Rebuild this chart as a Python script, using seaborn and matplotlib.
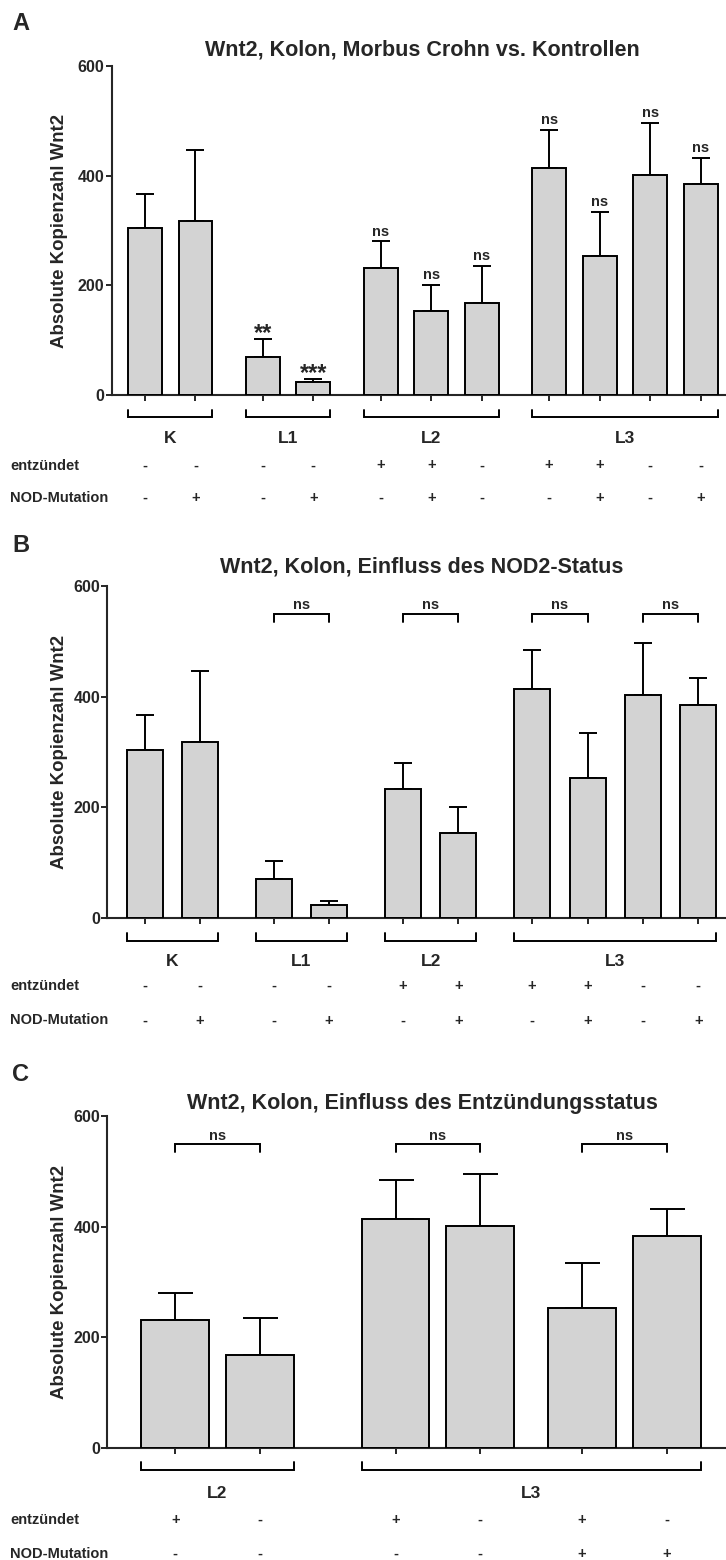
import numpy as np
import pandas as pd
import matplotlib
matplotlib.use("Agg")
import matplotlib.pyplot as plt
import seaborn as sns
from matplotlib.transforms import blended_transform_factory

# ---------------- data ----------------
# Panel A
a_groups = ["K", "L1", "L2", "L3"]
a_group_sizes = [2, 2, 3, 4]
a_means = [304, 318, 70, 23, 232, 154, 168, 414, 253, 402, 384]
a_sem = [62, 128, 33, 7, 48, 47, 68, 70, 81, 94, 49]
a_entz = ["-", "-", "-", "-", "+", "+", "-", "+", "+", "-", "-"]
a_nod = ["-", "+", "-", "+", "-", "+", "-", "-", "+", "-", "+"]
a_sig = ["", "", "**", "***", "ns", "ns", "ns", "ns", "ns", "ns", "ns"]

# Panel B
b_groups = ["K", "L1", "L2", "L3"]
b_group_sizes = [2, 2, 2, 4]
b_means = [304, 318, 70, 23, 232, 154, 414, 253, 402, 384]
b_sem = [62, 128, 33, 7, 48, 47, 70, 81, 94, 49]
b_entz = ["-", "-", "-", "-", "+", "+", "+", "+", "-", "-"]
b_nod = ["-", "+", "-", "+", "-", "+", "-", "+", "-", "+"]
b_pairs = [(2, 3), (4, 5), (6, 7), (8, 9)]
b_pair_labels = ["ns", "ns", "ns", "ns"]

# Panel C
c_groups = ["L2", "L3"]
c_group_sizes = [2, 4]
c_means = [232, 168, 414, 402, 253, 384]
c_sem = [48, 68, 70, 94, 81, 49]
c_entz = ["+", "-", "+", "-", "+", "-"]
c_nod = ["-", "-", "-", "-", "+", "+"]
c_pairs = [(0, 1), (2, 3), (4, 5)]
c_pair_labels = ["ns", "ns", "ns"]

titles = ["Wnt2, Kolon, Morbus Crohn vs. Kontrollen",
          "Wnt2, Kolon, Einfluss des NOD2-Status",
          "Wnt2, Kolon, Einfluss des Entzündungsstatus"]
ylabel = "Absolute Kopienzahl Wnt2"
row_labels = ["entzündet", "NOD-Mutation"]
yticks = [0, 200, 400, 600]

# ---------------- style ----------------
sns.set_style("ticks")
plt.rcParams["font.family"] = ["Liberation Sans", "DejaVu Sans"]
plt.rcParams["font.weight"] = "bold"

W, H = 726, 1560
fig = plt.figure(figsize=(W / 100, H / 100), dpi=100)
LW = 1.4
BAR_COLOR = "#d3d3d3"


def fx(x):
    return x / W


def fy(y):
    return 1 - y / H


def panel(box, letter, letter_y, title, title_y, ylab_y, means, sem, steps,
          width, xlim, capsize, groups, sizes, entz, nod, entz_y, nod_y,
          gline_y, gleg_y, glabel_y, sig=None, pairs=None, pair_labels=None):
    left, top, right, bottom = box
    ax = fig.add_axes([fx(left), fy(bottom), fx(right) - fx(left), (bottom - top) / H])
    pos = np.concatenate([[0.0], np.cumsum(steps)])
    df = pd.DataFrame({"pos": pos, "mean": means})
    sns.barplot(data=df, x="pos", y="mean", native_scale=True, width=width,
                color=BAR_COLOR, saturation=1, edgecolor="black", linewidth=LW,
                errorbar=None, ax=ax, zorder=3)
    ax.errorbar(pos, means, yerr=[np.zeros(len(means)), sem], fmt="none",
                ecolor="black", elinewidth=LW, capsize=capsize, capthick=LW, zorder=2)

    sns.despine(ax=ax)
    for s in ["left", "bottom"]:
        ax.spines[s].set_linewidth(1.5)
    ax.set_yticks(yticks)
    ax.tick_params(axis="y", length=4.3, width=1.4, pad=0.8, labelsize=11.5)
    ax.set_xticks(pos)
    ax.set_xticklabels([])
    ax.tick_params(axis="x", length=4.3, width=1.4, direction="out")
    ax.set_xlabel("")
    ax.set_ylabel("")

    trans = blended_transform_factory(ax.transData, fig.transFigure)

    # group brackets and labels
    start = 0
    for g, n in zip(groups, sizes):
        x0 = pos[start] - width / 2
        x1 = pos[start + n - 1] + width / 2
        ax.plot([x0, x0, x1, x1], [fy(gleg_y), fy(gline_y), fy(gline_y), fy(gleg_y)],
                transform=trans, clip_on=False, color="black", lw=LW,
                solid_joinstyle="miter")
        ax.text((x0 + x1) / 2, fy(glabel_y), g, transform=trans, ha="center",
                va="baseline", fontsize=12.5)
        start += n

    # condition rows
    fig.text(fx(10), fy(entz_y), row_labels[0], va="baseline", fontsize=10.5)
    fig.text(fx(10), fy(nod_y), row_labels[1], va="baseline", fontsize=10.5)
    for p, e, m in zip(pos, entz, nod):
        ax.text(p, fy(entz_y), e, transform=trans, ha="center", va="baseline", fontsize=10.5)
        ax.text(p, fy(nod_y), m, transform=trans, ha="center", va="baseline", fontsize=10.5)

    # significance above bars
    if sig is not None:
        for p, m, e, s in zip(pos, means, sem, sig):
            if not s:
                continue
            if s == "ns":
                ax.annotate(s, xy=(p, m + e), xytext=(0, 4.0), textcoords="offset points",
                            ha="center", va="baseline", fontsize=10.5)
            else:
                ax.annotate(s, xy=(p, m + e), xytext=(0, -0.8), textcoords="offset points",
                            ha="center", va="baseline", fontsize=17)

    # comparison brackets
    if pairs is not None:
        for (i, j), s in zip(pairs, pair_labels):
            ax.plot([pos[i], pos[i], pos[j], pos[j]], [535, 550, 550, 535],
                    color="black", lw=LW, clip_on=False, solid_joinstyle="miter")
            ax.text((pos[i] + pos[j]) / 2, 558, s, ha="center", va="baseline", fontsize=10.5)

    ax.set_xlim(*xlim)
    ax.set_ylim(0, 600)

    fig.text(fx(12), fy(letter_y), letter, va="baseline", fontsize=17)
    fig.text(fx(422), fy(title_y), title, ha="center", va="baseline", fontsize=15.5)
    fig.text(fx(60), fy(ylab_y), ylabel, rotation=90, ha="center", va="center", fontsize=13.4)
    return ax


g = 4 / 3
panel((111.6, 66, 726, 395), "A", 29.5, titles[0], 55.5, 230.5,
      a_means, a_sem, [1, g, 1, g, 1, 1, g, 1, 1, 1], 0.67, (-0.66, 11.5), 6.5,
      a_groups, a_group_sizes, a_entz, a_nod, 469.5, 502,
      417, 410, 443.3, sig=a_sig)

panel((107.4, 586, 726, 917.7), "B", 551.7, titles[1], 573, 752,
      b_means, b_sem, [1, g, 1, g, 1, g, 1, 1, 1], 0.65, (-0.67, 10.5), 6.5,
      b_groups, b_group_sizes, b_entz, b_nod, 990, 1024.5,
      940.5, 933, 966, pairs=b_pairs, pair_labels=b_pair_labels)

panel((107.4, 1116.3, 726, 1448), "C", 1080.7, titles[2], 1109.3, 1282,
      c_means, c_sem, [1, 1.6, 1, 1.2, 1], 0.8, (-0.8, 6.5), 12.6,
      c_groups, c_group_sizes, c_entz, c_nod, 1524, 1558,
      1470, 1462, 1498.3, pairs=c_pairs, pair_labels=c_pair_labels)

fig.savefig("out.png", dpi=100)
